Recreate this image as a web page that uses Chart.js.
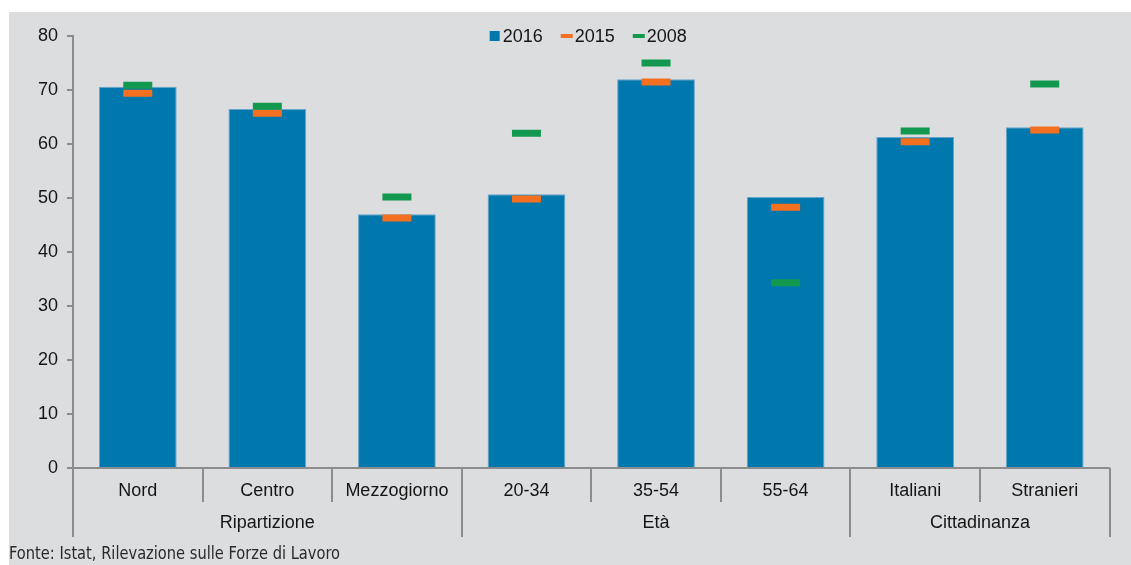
<!DOCTYPE html>
<html>
<head>
<meta charset="utf-8">
<script src="https://cdn.jsdelivr.net/npm/chart.js@4"></script>
<style>
  body { margin: 0; background: #ffffff; }
  #wrap { position: relative; width: 1131px; height: 565px; }
  #bg { position: absolute; left: 9px; top: 12px; width: 1122px; height: 553px; background: #dcdddf; }
  #myChart { position: absolute; left: 0; top: 0; }
  #source { position: absolute; left: 9px; top: 542px; font: 16.3px "Liberation Sans Narrow", "DejaVu Sans Condensed", sans-serif; color: #2a2a2a; transform: scaleY(1.12); transform-origin: left top; }
</style>
</head>
<body>
<div id="wrap">
  <div id="bg"></div>
  <canvas id="myChart" width="1131" height="565"></canvas>
  <div id="source">Fonte: Istat, Rilevazione sulle Forze di Lavoro</div>
</div>
<script>
const categories = ["Nord", "Centro", "Mezzogiorno", "20-34", "35-54", "55-64", "Italiani", "Stranieri"];
const groupNames = ["Ripartizione", "Età", "Cittadinanza"];
const groupSizes = [3, 3, 2];
const seriesLabels = ["2016", "2015", "2008"];
const values2016 = [70.6, 66.5, 47.0, 50.7, 72.0, 50.2, 61.3, 63.1];
const values2015 = [69.4, 65.7, 46.3, 49.8, 71.5, 48.3, 60.4, 62.6];
const values2008 = [70.9, 67.0, 50.2, 62.0, 75.0, 34.3, 62.4, 71.1];
const yTicks = [0, 80, 10];

const blue = "#0077ad";
const orange = "#f37021";
const green = "#12994f";
const axisGray = "#8c8c8c";
const textColor = "#151515";
const fontFamily = '"Liberation Sans", Arial, sans-serif';

const ctx = document.getElementById("myChart");

// separators, group labels and legend drawn on top of the chart
const groupPlugin = {
  id: "groups",
  afterDraw(chart) {
    const c = chart.ctx;
    const x = chart.scales.x;
    const area = chart.chartArea;
    const step = x.getPixelForTick(1) - x.getPixelForTick(0);
    const edges = categories.map((cat, i) => x.getPixelForTick(i) - step / 2);
    edges.push(x.getPixelForTick(categories.length - 1) + step / 2);

    const groupEdges = [0];
    groupSizes.forEach((s) => groupEdges.push(groupEdges[groupEdges.length - 1] + s));

    c.save();
    c.strokeStyle = axisGray;
    c.lineWidth = 2;
    edges.forEach((ex, i) => {
      const long = groupEdges.includes(i);
      const px = Math.round(ex);
      c.beginPath();
      c.moveTo(px, area.bottom);
      c.lineTo(px, area.bottom + (long ? 69 : 34));
      c.stroke();
    });

    c.font = "18px " + fontFamily;
    c.fillStyle = textColor;
    c.textAlign = "center";
    c.textBaseline = "middle";
    groupNames.forEach((g, k) => {
      const a = edges[groupEdges[k]];
      const b = edges[groupEdges[k + 1]];
      c.fillText(g, (a + b) / 2, area.bottom + 55);
    });

    // legend
    c.font = "18px " + fontFamily;
    c.textAlign = "left";
    const items = chart.data.datasets.map((ds, i) => {
      const isBar = i === 0;
      const markW = isBar ? 10 : 12;
      const gap = isBar ? 3 : 2;
      const tw = c.measureText(ds.label).width;
      return { ds, isBar, markW, gap, tw, w: markW + gap + tw };
    });
    const spacing = 18;
    const total = items.reduce((s, it) => s + it.w, 0) + spacing * (items.length - 1);
    let lx = (area.left + area.right) / 2 - total / 2 - 3;
    const ly = 36;
    items.forEach((it) => {
      if (it.isBar) {
        c.fillStyle = it.ds.backgroundColor;
        c.fillRect(lx, ly - 5, 10, 10);
      } else {
        c.fillStyle = it.ds.borderColor;
        c.fillRect(lx, ly - 2, 12, 4);
      }
      c.fillStyle = textColor;
      c.fillText(it.ds.label, lx + it.markW + it.gap, ly + 1);
      lx += it.w + spacing;
    });
    c.restore();
  },
};

const myChart = new Chart(ctx, {
  type: "bar",
  data: {
    labels: categories,
    datasets: [
      {
        label: seriesLabels[0],
        data: values2016,
        backgroundColor: blue,
        borderColor: "rgba(90,160,200,0.9)",
        borderWidth: 1,
        barPercentage: 0.6,
        categoryPercentage: 1.0,
        order: 10,
      },
      {
        type: "line",
        label: seriesLabels[1],
        data: values2015,
        showLine: false,
        borderColor: orange,
        backgroundColor: orange,
        pointStyle: "line",
        pointRadius: 14.5,
        pointHoverRadius: 14.5,
        pointBorderWidth: 7,
        order: 2,
      },
      {
        type: "line",
        label: seriesLabels[2],
        data: values2008,
        showLine: false,
        borderColor: green,
        backgroundColor: green,
        pointStyle: "line",
        pointRadius: 14.5,
        pointHoverRadius: 14.5,
        pointBorderWidth: 7,
        order: 1,
      },
    ],
  },
  options: {
    responsive: false,
    animation: false,
    layout: {
      padding: { left: 0, right: 21, top: 36, bottom: 27 },
    },
    plugins: {
      legend: { display: false },
      tooltip: { enabled: false },
    },
    scales: {
      x: {
        afterFit: (scale) => {
          scale.height = 70;
        },
        grid: { display: false, drawTicks: false },
        border: { display: true, color: axisGray, width: 2 },
        ticks: {
          color: textColor,
          padding: 12,
          font: { size: 18, family: fontFamily },
        },
      },
      y: {
        min: yTicks[0],
        max: yTicks[1],
        afterFit: (scale) => {
          scale.width = 73;
        },
        grid: { drawOnChartArea: false, tickLength: 6, color: axisGray, lineWidth: 2 },
        border: { display: true, color: axisGray, width: 2 },
        ticks: {
          stepSize: yTicks[2],
          color: textColor,
          padding: 9,
          font: { size: 18, family: fontFamily },
        },
      },
    },
  },
  plugins: [groupPlugin],
});
</script>
</body>
</html>
